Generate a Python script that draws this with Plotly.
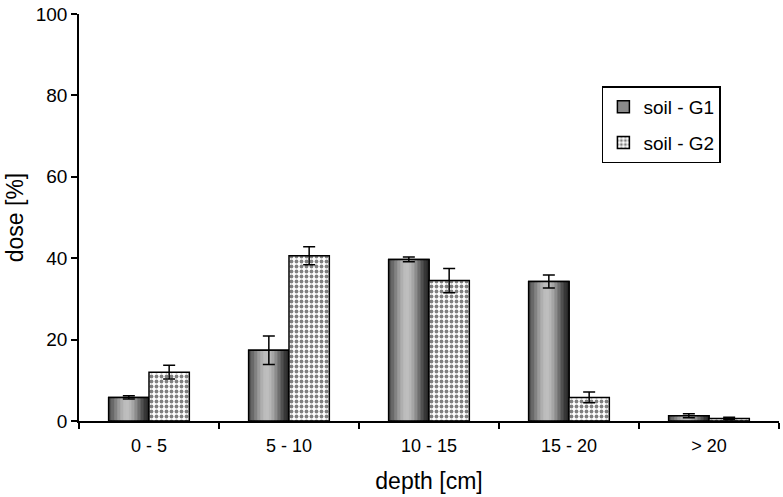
import plotly.graph_objects as go

categories = ["0 - 5", "5 - 10", "10 - 15", "15 - 20", "> 20"]
g1_values = [5.8, 17.4, 39.7, 34.3, 1.3]
g1_errors = [0.4, 3.5, 0.6, 1.6, 0.5]
g2_values = [12.0, 40.6, 34.5, 5.8, 0.6]
g2_errors = [1.7, 2.2, 3.0, 1.3, 0.3]
y_ticks = [0, 20, 40, 60, 80, 100]

BW = 0.288  # bar width in category units
FONT = "Liberation Sans, Arial, sans-serif"

# horizontal gradient for G1 (cylinder look)
grad = [85, 105, 130, 155, 175, 188, 190, 182, 165, 140, 110, 80, 55, 40]
n = len(grad)

fig = go.Figure()

fig.add_trace(go.Bar(
    x=categories, y=g1_values, name="soil - G1", legendgroup="g1",
    offset=-BW, width=BW,
    marker=dict(color="#8a8a8a", line=dict(color="black", width=1.5)),
    showlegend=True,
))
for i, g in enumerate(grad):
    fig.add_trace(go.Bar(
        x=categories, y=g1_values, legendgroup="g1",
        offset=-BW + i * BW / n, width=BW / n * 1.05,
        marker=dict(color=f"rgb({g},{g},{g})", line=dict(width=0)),
        showlegend=False, hoverinfo="skip",
    ))
fig.add_trace(go.Bar(
    x=categories, y=g1_values, legendgroup="g1",
    offset=-BW, width=BW,
    marker=dict(color="rgba(0,0,0,0)", line=dict(color="black", width=1.5)),
    error_y=dict(type="data", array=g1_errors, color="black", thickness=1.5, width=6),
    showlegend=False, hoverinfo="skip",
))

fig.add_trace(go.Bar(
    x=categories, y=g2_values, name="soil - G2", legendgroup="g2",
    offset=0, width=BW,
    marker=dict(color="white", line=dict(color="black", width=1.5),
                pattern=dict(shape=".", fgcolor="black", bgcolor="white",
                             size=5, solidity=0.45, fillmode="overlay")),
    error_y=dict(type="data", array=g2_errors, color="black", thickness=1.5, width=6),
))

fig.update_layout(
    width=783, height=497,
    margin=dict(l=79, r=4, t=14, b=76),
    barmode="overlay",
    plot_bgcolor="white", paper_bgcolor="white",
    font=dict(family=FONT, size=19, color="black"),
    legend=dict(x=0.747, y=0.822, xanchor="left", yanchor="top",
                bordercolor="black", borderwidth=1.5, bgcolor="white",
                font=dict(size=19), tracegroupgap=8, traceorder="grouped",
                itemwidth=30),
    xaxis=dict(
        showline=True, linecolor="black", linewidth=1.5,
        ticks="outside", ticklen=6, tickwidth=1.5, tickcolor="black",
        tickson="boundaries", showgrid=False, automargin=False,
        tickfont=dict(size=18), ticklabelstandoff=8,
        title=dict(text="depth [cm]", font=dict(size=23), standoff=18),
        range=[-0.5, 4.5],
    ),
    yaxis=dict(
        range=[0, 100], tickvals=y_ticks,
        showline=True, linecolor="black", linewidth=1.5,
        ticks="outside", ticklen=6, tickwidth=1.5, tickcolor="black",
        showgrid=False, zeroline=False, automargin=False,
        tickfont=dict(size=19),
        title=dict(text="dose [%]", font=dict(size=23), standoff=6),
    ),
)

fig.write_html("out.html", config={"displayModeBar": False},
               post_script="document.body.style.margin='0';")
